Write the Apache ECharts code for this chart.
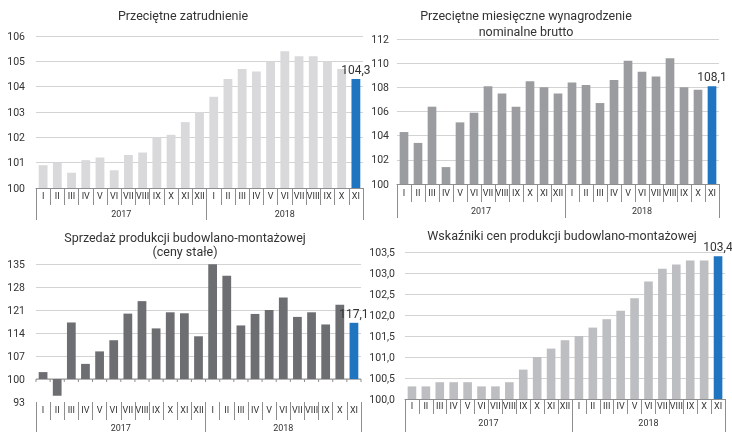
<!DOCTYPE html>
<html>
<head>
<meta charset="utf-8">
<script src="https://cdn.jsdelivr.net/npm/echarts@6/dist/echarts.min.js"></script>
<style>
  html, body { margin: 0; padding: 0; background: #ffffff; }
  #chart { width: 732px; height: 432px; will-change: transform; -webkit-font-smoothing: antialiased; }
</style>
</head>
<body>
<div id="chart"></div>
<script>
// Months of each year shown on the category axes
const months2017 = ['I', 'II', 'III', 'IV', 'V', 'VI', 'VII', 'VIII', 'IX', 'X', 'XI', 'XII'];
const months2018 = ['I', 'II', 'III', 'IV', 'V', 'VI', 'VII', 'VIII', 'IX', 'X', 'XI'];
const years = ['2017', '2018'];

// Panel titles
const titleZatrudnienie = 'Przeciętne zatrudnienie';
const titleWynagrodzenie = 'Przeciętne miesięczne wynagrodzenie\nnominalne brutto';
const titleSprzedaz = 'Sprzedaż produkcji budowlano-montażowej\n(ceny stałe)';
const titleCeny = 'Wskaźniki cen produkcji budowlano-montażowej';

// Index values (same month of previous year = 100)
const zatrudnienie = [100.9, 101.0, 100.6, 101.1, 101.2, 100.7, 101.3, 101.4, 102.0, 102.1, 102.6, 103.0,
                      103.6, 104.3, 104.7, 104.6, 105.0, 105.4, 105.2, 105.2, 105.0, 104.7, 104.3];
const wynagrodzenie = [104.3, 103.4, 106.4, 101.4, 105.1, 105.9, 108.1, 107.5, 106.4, 108.5, 108.0, 107.5,
                       108.4, 108.2, 106.7, 108.6, 110.2, 109.3, 108.9, 110.4, 108.0, 107.8, 108.1];
const sprzedaz = [102.1, 94.9, 117.2, 104.6, 108.4, 111.8, 119.9, 123.7, 115.4, 120.3, 120.0, 113.0,
                  134.9, 131.4, 116.3, 119.8, 121.0, 124.8, 118.9, 120.3, 116.6, 122.6, 117.1];
const ceny = [100.3, 100.3, 100.4, 100.4, 100.4, 100.3, 100.3, 100.4, 100.7, 101.0, 101.2, 101.4,
              101.5, 101.7, 101.9, 102.1, 102.4, 102.8, 103.1, 103.2, 103.3, 103.3, 103.4];

// Value-axis tick labels
const ticksZatrudnienie = [100, 101, 102, 103, 104, 105, 106];
const ticksWynagrodzenie = [100, 102, 104, 106, 108, 110, 112];
const ticksSprzedaz = [93, 100, 107, 114, 121, 128, 135];
const ticksCeny = [100.0, 100.5, 101.0, 101.5, 102.0, 102.5, 103.0, 103.5];

const categories = months2017.concat(months2018);
const monthsPerYear = [months2017.length, months2018.length];

// Year boundaries and year-label centres along the month index scale
const yearBounds = [0];
monthsPerYear.forEach(function (n, k) { yearBounds.push(yearBounds[k] + n); });
const yearCentres = monthsPerYear.map(function (n, k) { return yearBounds[k] + n / 2; });

const FONT = 'Roboto, "Noto Sans", sans-serif';
const TEXT = '#333333';
const LINE = '#8e8e8e';
const GRIDLINE = '#d3d3d3';
const BLUE = '#1f75bf';

function fmt1(v) { return v.toFixed(1).replace('.', ','); }

const panels = [
  { title: titleZatrudnienie, titleX: 183, titleY: 7, lineH: 16,
    grid: { left: 36, top: 36, width: 327, height: 152 },
    values: zatrudnienie, ticks: ticksZatrudnienie, base: 100, color: '#d9d9db',
    labelMargin: 11, decimals: 0, axisOnBase: false, showAxisLine: true,
    monthTick: 17, yearTick: 32, monthMargin: 3, yearMargin: 21 },
  { title: titleWynagrodzenie, titleX: 526, titleY: 7, lineH: 16,
    grid: { left: 397, top: 39, width: 322, height: 145 },
    values: wynagrodzenie, ticks: ticksWynagrodzenie, base: 100, color: '#9b9c9f',
    labelMargin: 8, decimals: 0, axisOnBase: false, showAxisLine: true,
    monthTick: 18, yearTick: 34, monthMargin: 4, yearMargin: 22 },
  { title: titleSprzedaz, titleX: 185, titleY: 231, lineH: 13.5,
    grid: { left: 36, top: 264, width: 325, height: 138 },
    values: sprzedaz, ticks: ticksSprzedaz, base: 100, color: '#6d6e71',
    labelMargin: 11, decimals: 0, axisOnBase: true, showAxisLine: false,
    monthTick: 18, yearTick: 34, monthMargin: 3, yearMargin: 21 },
  { title: titleCeny, titleX: 562, titleY: 227, lineH: 16,
    grid: { left: 405, top: 252, width: 320, height: 147 },
    values: ceny, ticks: ticksCeny, base: 100, color: '#bdbec1',
    labelMargin: 10, decimals: 1, axisOnBase: false, showAxisLine: true,
    monthTick: 15, yearTick: 34, monthMargin: 2, yearMargin: 19 }
];

function makeRenderer(panel) {
  const n = panel.values.length;
  return function (params, api) {
    const i = api.value(0);
    const v = api.value(1);
    const p0 = api.coord([i, panel.base]);
    const p1 = api.coord([i, v]);
    const cw = api.size([1, 0])[0];
    const bw = cw * 0.62;
    const last = params.dataIndex === n - 1;
    const children = [];
    // Base axis segment with boundary ticks where the axis crosses the chart at 100
    if (panel.axisOnBase) {
      children.push({ type: 'line', shape: { x1: p0[0] - cw / 2, y1: p0[1], x2: p0[0] + cw / 2, y2: p0[1] },
        style: { stroke: LINE, lineWidth: 1 } });
      children.push({ type: 'line', shape: { x1: p0[0] - cw / 2, y1: p0[1], x2: p0[0] - cw / 2, y2: p0[1] + 3 },
        style: { stroke: LINE, lineWidth: 1 } });
      if (last) {
        children.push({ type: 'line', shape: { x1: p0[0] + cw / 2, y1: p0[1], x2: p0[0] + cw / 2, y2: p0[1] + 3 },
          style: { stroke: LINE, lineWidth: 1 } });
      }
    }
    children.push({
      type: 'rect',
      shape: { x: p0[0] - bw / 2, y: Math.min(p0[1], p1[1]), width: bw, height: Math.abs(p1[1] - p0[1]) },
      style: { fill: last ? BLUE : panel.color }
    });
    if (last) {
      children.push({
        type: 'text',
        style: { text: fmt1(v), x: p1[0], y: p1[1] - 3, align: 'center', verticalAlign: 'bottom',
                 fill: TEXT, fontSize: 12, fontFamily: FONT }
      });
    }
    return { type: 'group', children: children };
  };
}

const option = {
  animation: false,
  backgroundColor: '#ffffff',
  title: [],
  grid: [],
  xAxis: [],
  yAxis: [],
  series: []
};

panels.forEach(function (p, k) {
  option.title.push({
    text: p.title, left: p.titleX, top: p.titleY, textAlign: 'center', padding: 0,
    textStyle: { fontFamily: FONT, fontSize: 12.5, fontWeight: 'normal', color: TEXT, lineHeight: p.lineH }
  });
  option.grid.push(Object.assign({ containLabel: false }, p.grid));
  // Month row
  option.xAxis.push({
    type: 'category', gridIndex: k, data: categories, position: 'bottom', offset: 0,
    axisLine: { show: p.showAxisLine, lineStyle: { color: LINE, width: 1 } },
    axisTick: { show: true, interval: 0, alignWithLabel: false, length: p.monthTick,
                lineStyle: { color: LINE, width: 1 } },
    axisLabel: { interval: 0, margin: p.monthMargin, fontSize: 9, fontFamily: FONT, color: TEXT },
    splitLine: { show: false }
  });
  // Year row
  option.xAxis.push({
    type: 'value', gridIndex: k, min: 0, max: categories.length, position: 'bottom', offset: 0,
    axisLine: { show: false },
    axisTick: { show: true, customValues: yearBounds, length: p.yearTick,
                lineStyle: { color: LINE, width: 1 } },
    axisLabel: { customValues: yearCentres, margin: p.yearMargin, fontSize: 9, fontFamily: FONT, color: TEXT,
                 formatter: function (val) {
                   const idx = yearCentres.indexOf(val);
                   return idx >= 0 ? years[idx] : '';
                 } },
    splitLine: { show: false }
  });
  const t = p.ticks;
  option.yAxis.push({
    type: 'value', gridIndex: k, min: t[0], max: t[t.length - 1], interval: t[1] - t[0],
    axisLine: { show: false }, axisTick: { show: false },
    axisLabel: { margin: p.labelMargin, fontSize: 10.5, fontFamily: FONT, color: TEXT,
                 formatter: function (val) { return p.decimals ? fmt1(val) : String(Math.round(val)); } },
    splitLine: { show: true, showMinLine: !p.axisOnBase, lineStyle: { color: GRIDLINE, width: 1 } }
  });
  option.series.push({
    type: 'custom', xAxisIndex: 2 * k, yAxisIndex: k, clip: false,
    renderItem: makeRenderer(p),
    encode: { x: 0, y: 1 },
    data: p.values.map(function (v, i) { return [i, v]; })
  });
});

const chart = echarts.init(document.getElementById('chart'), null, { renderer: 'svg', width: 732, height: 432 });
chart.setOption(option);
</script>
</body>
</html>
